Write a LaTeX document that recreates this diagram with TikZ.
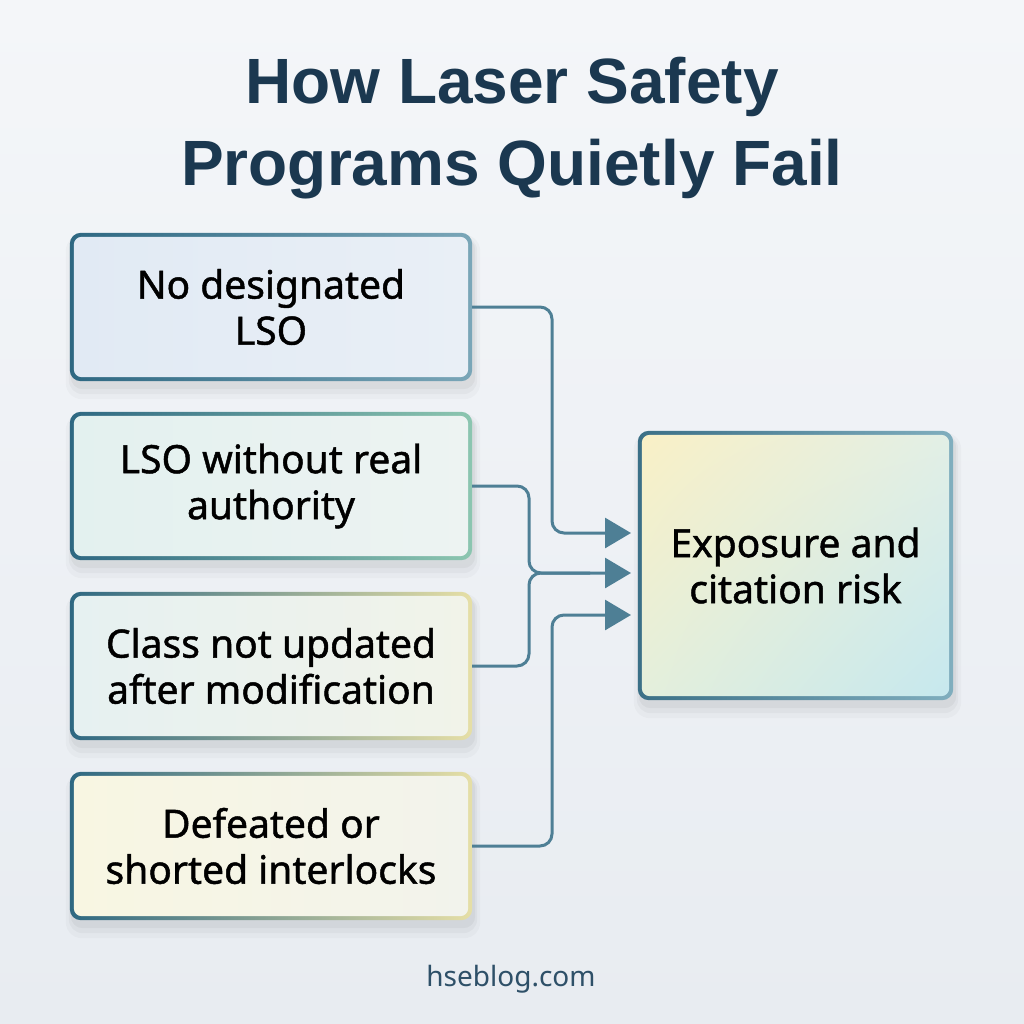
\documentclass[tikz,border=0pt]{standalone}
\usepackage{fontspec}
\setmainfont{Noto Sans}
\newfontface\bodyfont{Noto Sans}[FakeBold=1.2]
\newfontface\titlefont{Liberation Sans Bold}
\usetikzlibrary{arrows.meta,calc,shadings}
\definecolor{bgtop}{HTML}{F4F6F9}
\definecolor{bgbot}{HTML}{E8ECF1}
\definecolor{titlecol}{HTML}{1B3850}
\definecolor{conncol}{HTML}{4E7F95}
\definecolor{footcol}{HTML}{2E5068}
\definecolor{bdark}{HTML}{2E6882}
\definecolor{bOneR}{HTML}{7AA6B8}
\definecolor{bTwoR}{HTML}{8CC6B0}
\definecolor{bYelR}{HTML}{E6DFA6}
\definecolor{fOneL}{HTML}{E1EAF4}
\definecolor{fOneR}{HTML}{E9EFF6}
\definecolor{fTwoL}{HTML}{E3F1EF}
\definecolor{fTwoR}{HTML}{EDF3F2}
\definecolor{fThrL}{HTML}{E6F1F1}
\definecolor{fThrR}{HTML}{F1F3E9}
\definecolor{fFouL}{HTML}{F8F6E2}
\definecolor{fFouR}{HTML}{F2F3EC}
\definecolor{tUL}{HTML}{F9F0C6}
\definecolor{tUR}{HTML}{E2EFE6}
\definecolor{tLL}{HTML}{E4EFDC}
\definecolor{tLR}{HTML}{C6E8EE}
\definecolor{tBL}{HTML}{3B7087}
\definecolor{tBR}{HTML}{80AEBE}
\pgfdeclarelayer{canvas}
\pgfdeclarelayer{cards}
\pgfsetlayers{canvas,cards,main}
\newcommand\cardshadow[1]{%
  \fill[black,opacity=0.025,rounded corners=16pt] ($(#1.north west)+(-4,2)$) rectangle ($(#1.south east)+(8,18)$);
  \fill[black,opacity=0.03,rounded corners=14pt] ($(#1.north west)+(-1,4)$) rectangle ($(#1.south east)+(5,13)$);
  \fill[black,opacity=0.04,rounded corners=12pt] ($(#1.north west)+(1,5)$) rectangle ($(#1.south east)+(3,8)$);
}
\newcommand\cardbg[5]{%
  \cardshadow{#1}
  \shade[left color=#2,right color=#3,rounded corners=11pt] (#1.north west) rectangle (#1.south east);
  \shade[left color=#4,right color=#5,rounded corners=8pt] ($(#1.north west)+(4,4)$) rectangle ($(#1.south east)+(-4,-4)$);
}
\begin{document}
\begin{tikzpicture}[x=1pt,y=-1pt,
  cardtext/.style={minimum width=402pt,minimum height=148pt,inner sep=0pt,align=center,
     font=\bodyfont\fontsize{39}{46}\selectfont,text=black},
  conn/.style={draw=conncol,line width=3pt,rounded corners=12pt},
  arr/.style={conn,-{Triangle[length=26pt,width=30pt]}}]
\useasboundingbox (0,0) rectangle (1024,1024);
\begin{pgfonlayer}{canvas}
  \shade[top color=bgtop,bottom color=bgbot] (0,0) rectangle (1024,1024);
\end{pgfonlayer}

\node[align=center,text=titlecol,font=\titlefont\fontsize{64}{82}\selectfont] (title) at (512,128)
  {How Laser Safety\\Programs Quietly Fail};

\node[cardtext] (b1) at (271,307) {No designated\\LSO};
\node[cardtext] (b2) at (271,486) {LSO without real\\authority};
\node[cardtext] (b3) at (271,666) {Class not updated\\after modification};
\node[cardtext] (b4) at (271,846) {Defeated or\\shorted interlocks};
\node[cardtext,minimum width=315pt,minimum height=269pt] (tgt) at (795.5,565.5) {Exposure and\\citation risk};

\node[text=footcol,font=\fontsize{28}{34}\selectfont,anchor=base] (foot) at (511,986) {hseblog.com};

\begin{pgfonlayer}{cards}
  \cardbg{b1}{bdark}{bOneR}{fOneL}{fOneR}
  \cardbg{b2}{bdark}{bTwoR}{fTwoL}{fTwoR}
  \cardbg{b3}{bdark}{bYelR}{fThrL}{fThrR}
  \cardbg{b4}{bdark}{bYelR}{fFouL}{fFouR}
  \cardshadow{tgt}
  \shade[left color=tBL,right color=tBR,rounded corners=11pt] (tgt.north west) rectangle (tgt.south east);
  \shade[upper left=tUL,upper right=tUR,lower left=tLL,lower right=tLR,rounded corners=8pt]
    ($(tgt.north west)+(4,4)$) rectangle ($(tgt.south east)+(-4,-4)$);
\end{pgfonlayer}

\coordinate (tA) at (631,533);
\coordinate (tB) at (631,573);
\coordinate (tC) at (631,615);

\draw[arr] (b1.east) -- (552,307) -- (552,533) -- (tA);
\draw[arr] (b2.east) -- (529,486) -- (529,573) -- (tB);
\draw[conn] (b3.east) -- (529,666) -- (529,573) -- (590,573);
\draw[arr] (b4.east) -- (552,846) -- (552,615) -- (tC);
\end{tikzpicture}
\end{document}
